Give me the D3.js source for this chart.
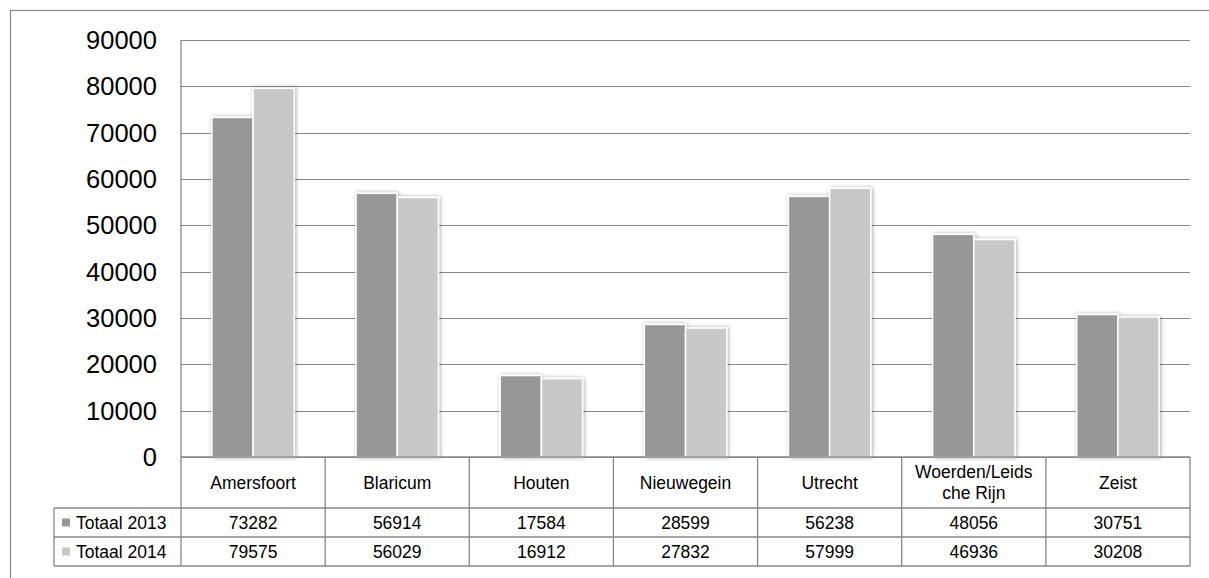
<!DOCTYPE html>
<html>
<head>
<meta charset="utf-8">
<script src="https://cdn.jsdelivr.net/npm/d3@7/dist/d3.min.js"></script>
<style>
  html, body { margin: 0; padding: 0; background: #fff; }
  svg { display: block; font-family: Arial, "Liberation Sans", sans-serif; }
</style>
</head>
<body>
<svg id="chart" width="1209" height="578"></svg>
<script>
// Municipalities and yearly totals
const categories = ["Amersfoort", "Blaricum", "Houten", "Nieuwegein", "Utrecht", "Woerden/Leidsche Rijn", "Zeist"];
const headerLines = [["Amersfoort"], ["Blaricum"], ["Houten"], ["Nieuwegein"], ["Utrecht"], ["Woerden/Leids", "che Rijn"], ["Zeist"]];
const seriesNames = ["Totaal 2013", "Totaal 2014"];
const totaal2013 = [73282, 56914, 17584, 28599, 56238, 48056, 30751];
const totaal2014 = [79575, 56029, 16912, 27832, 57999, 46936, 30208];
const yTicks = [0, 10000, 20000, 30000, 40000, 50000, 60000, 70000, 80000, 90000];

const seriesValues = [totaal2013, totaal2014];
const colors = ["#979797", "#c8c8c8"];
const gridColor = "#878787";

const svg = d3.select("#chart");

// Drop shadow behind the columns
const defs = svg.append("defs");
const f = defs.append("filter").attr("id", "shadow")
  .attr("x", "-30%").attr("y", "-10%").attr("width", "160%").attr("height", "120%");
f.append("feGaussianBlur").attr("in", "SourceAlpha").attr("stdDeviation", 2.2).attr("result", "b");
f.append("feOffset").attr("in", "b").attr("dx", 1).attr("dy", 0).attr("result", "o");
f.append("feComponentTransfer").attr("in", "o").attr("result", "s")
  .append("feFuncA").attr("type", "linear").attr("slope", 0.35);
const m = f.append("feMerge");
m.append("feMergeNode").attr("in", "s");
m.append("feMergeNode").attr("in", "SourceGraphic");

// Outer chart frame
svg.append("rect")
  .attr("x", 10.5).attr("y", 10.5).attr("width", 1300).attr("height", 700)
  .attr("fill", "none").attr("stroke", gridColor).attr("stroke-width", 1.2);

const plotLeft = 181, plotRight = 1190, plotTop = 40, plotBottom = 457;

const x = d3.scaleBand().domain(categories).range([plotLeft, plotRight]).padding(0);
const inner = d3.scaleBand().domain(seriesNames).range([0, x.bandwidth()])
  .paddingInner(0).paddingOuter(0.75);
const y = d3.scaleLinear().domain([0, 90000]).range([plotBottom, plotTop]);

// Horizontal gridlines
svg.append("g").selectAll("line").data(yTicks).join("line")
  .attr("x1", plotLeft).attr("x2", plotRight)
  .attr("y1", d => Math.round(y(d)) + 0.5).attr("y2", d => Math.round(y(d)) + 0.5)
  .attr("stroke", gridColor).attr("stroke-width", 1.2);

// Y axis labels
svg.append("g").selectAll("text").data(yTicks).join("text")
  .attr("x", 157).attr("y", d => y(d))
  .attr("text-anchor", "end").attr("dominant-baseline", "central")
  .attr("font-size", 25.5).attr("fill", "#000")
  .text(d => d);

// Columns
const bars = svg.append("g").attr("filter", "url(#shadow)");
seriesValues.forEach((vals, si) => {
  bars.selectAll(null).data(vals).join("rect")
    .attr("x", (d, i) => x(categories[i]) + inner(seriesNames[si]))
    .attr("y", d => y(d))
    .attr("width", inner.bandwidth())
    .attr("height", d => y(0) - y(d))
    .attr("fill", colors[si])
    .attr("stroke", "#fff").attr("stroke-width", 1.5);
});

// Data table beneath the plot
const headerBottom = 508, row1Bottom = 537, row2Bottom = 566, legendLeft = 54;
const t = svg.append("g").attr("stroke", gridColor).attr("stroke-width", 1.3).attr("fill", "none");
// vertical axis line through header and table
t.append("line").attr("x1", plotLeft).attr("x2", plotLeft).attr("y1", plotTop).attr("y2", row2Bottom);
// baseline / header top
t.append("line").attr("x1", plotLeft).attr("x2", plotRight).attr("y1", plotBottom).attr("y2", plotBottom);
// row separators
[headerBottom, row1Bottom, row2Bottom].forEach(yy => {
  t.append("line").attr("x1", legendLeft).attr("x2", plotRight).attr("y1", yy).attr("y2", yy);
});
t.append("line").attr("x1", legendLeft).attr("x2", legendLeft).attr("y1", headerBottom).attr("y2", row2Bottom);
// column separators
categories.forEach(c => {
  const xx = x(c) + x.bandwidth();
  t.append("line").attr("x1", xx).attr("x2", xx).attr("y1", plotBottom).attr("y2", row2Bottom);
});

const fontSize = 17.5;
// Header labels
const hdr = svg.append("g").attr("font-size", fontSize).attr("text-anchor", "middle").attr("fill", "#000");
categories.forEach((c, i) => {
  const cx = x(c) + x.bandwidth() / 2;
  const lines = headerLines[i];
  const mid = (plotBottom + headerBottom) / 2;
  const lh = 21;
  lines.forEach((ln, li) => {
    hdr.append("text").attr("x", cx)
      .attr("y", mid + (li - (lines.length - 1) / 2) * lh)
      .attr("dominant-baseline", "central").text(ln);
  });
});

// Value rows with legend keys
const rowMids = [(headerBottom + row1Bottom) / 2, (row1Bottom + row2Bottom) / 2];
seriesValues.forEach((vals, si) => {
  const g = svg.append("g").attr("font-size", fontSize).attr("fill", "#000");
  g.append("rect").attr("x", 62).attr("y", rowMids[si] - 4).attr("width", 8).attr("height", 8)
    .attr("fill", colors[si]);
  g.append("text").attr("x", 76).attr("y", rowMids[si])
    .attr("dominant-baseline", "central").text(seriesNames[si]);
  g.selectAll(null).data(vals).join("text")
    .attr("x", (d, i) => x(categories[i]) + x.bandwidth() / 2)
    .attr("y", rowMids[si])
    .attr("text-anchor", "middle").attr("dominant-baseline", "central")
    .text(d => d);
});
</script>
</body>
</html>
